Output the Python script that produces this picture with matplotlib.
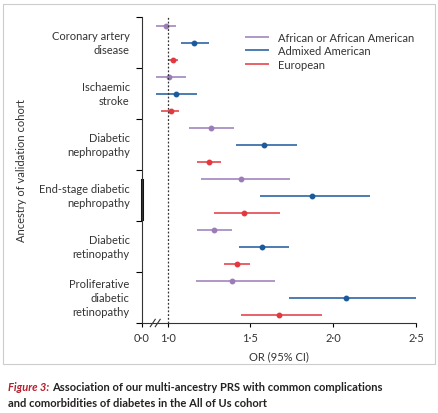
import matplotlib
matplotlib.use("Agg")
import matplotlib.pyplot as plt
from matplotlib.patches import Rectangle
import numpy as np

plt.rcParams["font.family"] = ["Lato", "DejaVu Sans"]

outcomes = ["Coronary artery\ndisease", "Ischaemic\nstroke", "Diabetic\nnephropathy",
            "End-stage diabetic\nnephropathy", "Diabetic\nretinopathy",
            "Proliferative\ndiabetic\nretinopathy"]
ancestries = ["African or African American", "Admixed American", "European"]
colors = ["#9b7cb8", "#1b5a9c", "#e2383f"]
# OR, lower, upper per outcome, per ancestry
or_afr = [0.99, 1.01, 1.26, 1.44, 1.28, 1.39]
lo_afr = [0.93, 0.93, 1.13, 1.20, 1.18, 1.17]
hi_afr = [1.05, 1.11, 1.40, 1.74, 1.39, 1.65]
or_amr = [1.16, 1.05, 1.58, 1.87, 1.57, 2.08]
lo_amr = [1.08, 0.93, 1.41, 1.56, 1.43, 1.73]
hi_amr = [1.25, 1.18, 1.78, 2.22, 1.73, 2.50]
or_eur = [1.03, 1.02, 1.25, 1.46, 1.42, 1.67]
lo_eur = [1.00, 0.96, 1.18, 1.28, 1.34, 1.44]
hi_eur = [1.06, 1.07, 1.32, 1.68, 1.50, 1.93]
series = [(or_afr, lo_afr, hi_afr), (or_amr, lo_amr, hi_amr), (or_eur, lo_eur, hi_eur)]

xmin = 0.845
fig = plt.figure(figsize=(4.39, 4.14), dpi=100)
ax = fig.add_axes([142 / 439, 1 - 324 / 414, (416 - 142) / 439, 306 / 414])

n = len(outcomes)
for k, (est, lo, hi) in enumerate(series):
    y = np.arange(n) * 3 + k + 0.5
    ax.hlines(y, lo, hi, color=colors[k], lw=1.1, label=ancestries[k])
    ax.plot(est, y, "o", color=colors[k], ms=3.2)

ax.axvline(1.0, color="#333333", ls=(0, (1.5, 1.5)), lw=0.9)
ax.set_ylim(n * 3, 0)
ax.set_xlim(xmin, 2.5)
ax.set_yticks(np.arange(n + 1) * 3)
ax.set_yticklabels([])
ax.tick_params(axis="y", length=4, width=0.8)
for i, lab in enumerate(outcomes):
    ax.text(-0.045, i * 3 + 1.5, lab, transform=ax.get_yaxis_transform(),
            ha="right", va="center", fontsize=8, color="#333333", linespacing=1.3)
ax.set_xticks([xmin, 1.0, 1.5, 2.0, 2.5])
ax.set_xticklabels(["0·0", "1·0", "1·5", "2·0", "2·5"], fontsize=8, color="#333333")
ax.tick_params(axis="x", length=3, width=0.8)
for s in ["top", "right"]:
    ax.spines[s].set_visible(False)
for s in ["left", "bottom"]:
    ax.spines[s].set_linewidth(0.8)
    ax.spines[s].set_color("#333333")
# broken axis marks
for dx in (0.0, 0.03):
    ax.plot([0.895 + dx, 0.925 + dx], [-0.012, 0.012], transform=ax.get_xaxis_transform(),
            color="#333333", lw=0.8, clip_on=False)
# thick segment on y spine
ax.plot([xmin, xmin], [9.6, 11.9], color="#111111", lw=2.2, clip_on=False)

ax.set_xlabel("OR (95% CI)", fontsize=8, color="#333333", labelpad=5)
fig.text(22 / 439, 1 - 171 / 414, "Ancestry of validation cohort", rotation=90,
         ha="center", va="center", fontsize=8, color="#333333")
ax.legend(loc="upper right", bbox_to_anchor=(1.03, 0.985), frameon=False, fontsize=8,
          handlelength=2.2, labelspacing=0.25, labelcolor="#333333")

fig.patches.append(Rectangle((3 / 439, 1 - 365 / 414), 432 / 439, 360 / 414,
                             transform=fig.transFigure, fill=False,
                             edgecolor="#cccccc", lw=0.8))
fig.text(8 / 439, 1 - 388 / 414, "Figure 3:", fontsize=8, fontweight="bold",
         style="italic", color="#b51f2e", va="center")
fig.text(52 / 439, 1 - 388 / 414, "Association of our multi-ancestry PRS with common complications",
         fontsize=8, fontweight="bold", color="#222222", va="center")
fig.text(8 / 439, 1 - 404 / 414, "and comorbidities of diabetes in the All of Us cohort",
         fontsize=8, fontweight="bold", color="#222222", va="center")

fig.savefig("out.png", dpi=100)
